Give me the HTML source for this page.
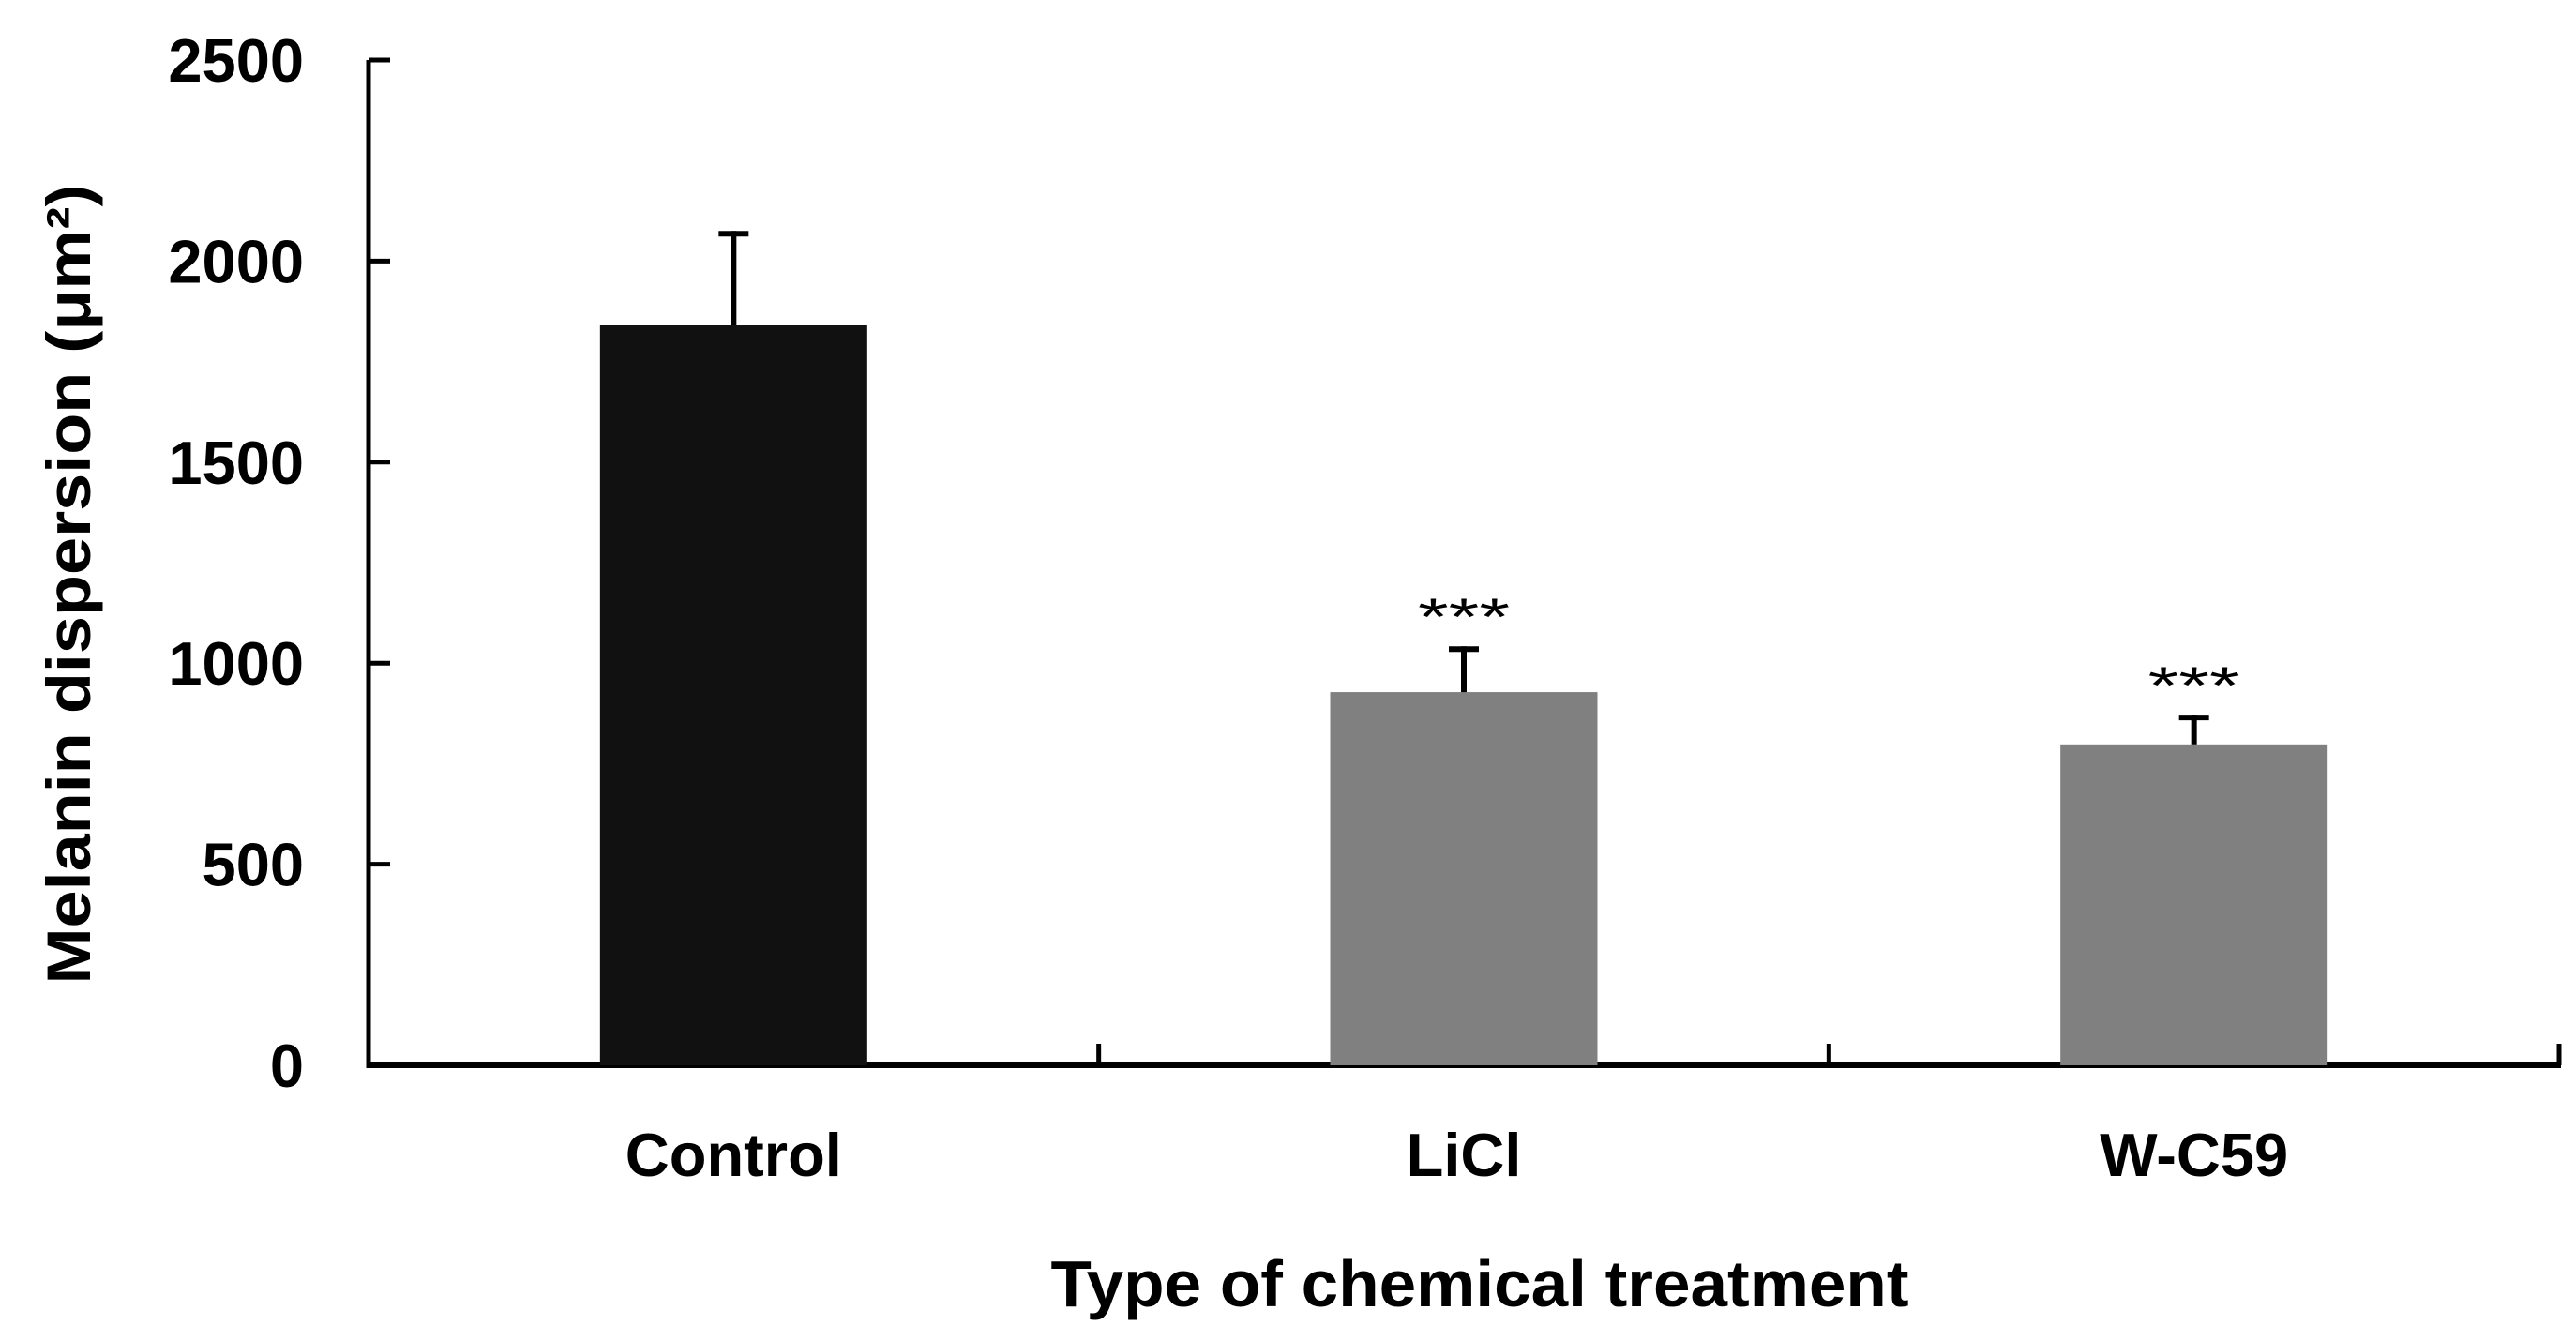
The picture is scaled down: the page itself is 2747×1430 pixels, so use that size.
<!DOCTYPE html>
<html><head><meta charset="utf-8"><style>
html,body{margin:0;padding:0;background:#fff;}
svg{display:block;}
text{font-family:"Liberation Sans",sans-serif;}
</style></head><body>
<svg id="chart" width="2747" height="1430" viewBox="0 0 2747 1430" xmlns="http://www.w3.org/2000/svg">
<g id="axes"></g>
<g id="bars"></g>
<text transform="translate(96,623) rotate(-90)" text-anchor="middle" font-size="66" font-weight="bold" textLength="853" lengthAdjust="spacingAndGlyphs">Melanin dispersion  (μm²)</text>
<text x="1578" y="1393" text-anchor="middle" font-size="70" font-weight="bold" textLength="915" lengthAdjust="spacingAndGlyphs">Type of chemical treatment</text>
</svg>
<script>
const categories = ["Control", "LiCl", "W-C59"];
const means = [1840, 928, 798];
const errors = [235, 114, 74];
const significance = ["", "***", "***"];
const yTicks = [0, 500, 1000, 1500, 2000, 2500];
const barColors = ["#111111", "#808080", "#808080"];

const NS = "http://www.w3.org/2000/svg";
const X0 = 393, X1 = 2729, Y0 = 1136, Y1 = 64, YMAX = 2500;
const slot = (X1 - X0) / categories.length;
const barW = 285;
function yScale(v){ return Y0 - (v / YMAX) * (Y0 - Y1); }
function xCenter(i){ return X0 + slot * (i + 0.5); }
function mk(tag, attrs, parent){
  const e = document.createElementNS(NS, tag);
  for (const k in attrs) e.setAttribute(k, attrs[k]);
  parent.appendChild(e);
  return e;
}
const axes = document.getElementById('axes');
const bars = document.getElementById('bars');

yTicks.forEach(t => {
  const y = yScale(t);
  const tk = mk('line', {x1: X0, x2: 416, y1: y, y2: y, stroke: '#000', 'stroke-width': 5}, axes);
  
  
  const lb = mk('text', {x: 324, y: y + 23, 'text-anchor': 'end', 'font-size': 65, 'font-weight': 'bold'}, axes);
  
  
  lb.textContent = String(t);
});

categories.forEach((c, i) => {
  const cx = xCenter(i);
  const top = yScale(means[i]);
  const r = mk('rect', {x: cx - barW / 2, y: top, width: barW, height: Y0 - top, fill: barColors[i]}, bars);
  
  
  const et = yScale(means[i] + errors[i]);
  const el = mk('line', {x1: cx, x2: cx, y1: top, y2: et, stroke: '#000', 'stroke-width': 6}, bars);
  
  
  const ec = mk('line', {x1: cx - 16, x2: cx + 16, y1: et + 3, y2: et + 3, stroke: '#000', 'stroke-width': 6}, bars);
  
  
  if (significance[i]) {
    const s = mk('text', {x: cx, y: et - 12, 'text-anchor': 'middle', 'font-size': 56, textLength: 98, lengthAdjust: 'spacingAndGlyphs'}, bars);
    
    
    s.textContent = significance[i];
  }
  const lb = mk('text', {x: cx, y: 1254, 'text-anchor': 'middle', 'font-size': 65, 'font-weight': 'bold'}, axes);
  
  
  lb.textContent = c;
  const tk = mk('line', {x1: X0 + slot * (i + 1), x2: X0 + slot * (i + 1), y1: 1113, y2: Y0, stroke: '#000', 'stroke-width': 5}, axes);
  
  
});

const ya = mk('line', {x1: X0, x2: X0, y1: Y1, y2: Y0 + 3, stroke: '#000', 'stroke-width': 5}, axes);


const xa = mk('line', {x1: X0 - 2, x2: X1 + 2, y1: Y0, y2: Y0, stroke: '#000', 'stroke-width': 6}, axes);


</script>
</body></html>
